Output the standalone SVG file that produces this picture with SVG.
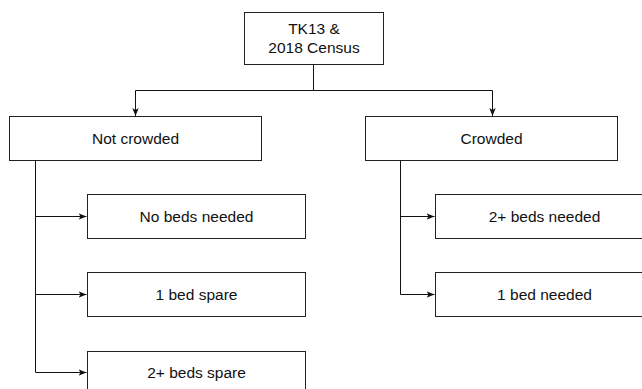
<svg xmlns="http://www.w3.org/2000/svg" width="642" height="389" viewBox="0 0 642 389">
  <style>
    .box { fill: #ffffff; stroke: #222222; stroke-width: 1; }
    .lbl { font-family: "Liberation Sans", Arial, sans-serif; font-size: 15.5px; fill: #111111; text-anchor: middle; }
    .edge { fill: none; stroke: #111111; stroke-width: 1; marker-end: url(#arrow); }
  </style>
  <defs>
    <marker id="arrow" viewBox="0 0 8 8" refX="8" refY="4" markerWidth="8" markerHeight="8" markerUnits="userSpaceOnUse" orient="auto">
      <path d="M0,0.8 L8,4 L0,7.2 L2,4 Z" fill="#111111"/>
    </marker>
  </defs>
  <rect width="642" height="389" fill="#ffffff"/>

  <g id="connectors">
    <path class="edge" d="M313.5,64 V90.5 H135.5 V116"/>
    <path class="edge" d="M313.5,64 V90.5 H492.5 V116"/>
    <path class="edge" d="M35.5,160 V216.5 H86.5"/>
    <path class="edge" d="M35.5,160 V294.5 H86.5"/>
    <path class="edge" d="M35.5,160 V372.5 H86.5"/>
    <path class="edge" d="M400.5,160 V216.5 H434.5"/>
    <path class="edge" d="M400.5,160 V294.5 H434.5"/>
  </g>

  <g id="root">
    <rect class="box" x="244.5" y="12.5" width="139" height="52"/>
    <text class="lbl" x="314" y="34">TK13 &amp;</text>
    <text class="lbl" x="314" y="53">2018 Census</text>
  </g>

  <g id="not-crowded">
    <rect class="box" x="9.5" y="116.5" width="252" height="44"/>
    <text class="lbl" x="135.5" y="144">Not crowded</text>
  </g>

  <g id="crowded">
    <rect class="box" x="365.5" y="116.5" width="252" height="44"/>
    <text class="lbl" x="491.5" y="144">Crowded</text>
  </g>

  <g id="no-beds-needed">
    <rect class="box" x="87.5" y="194.5" width="218" height="44"/>
    <text class="lbl" x="196.5" y="222">No beds needed</text>
  </g>

  <g id="one-bed-spare">
    <rect class="box" x="87.5" y="272.5" width="218" height="44"/>
    <text class="lbl" x="196.5" y="300">1 bed spare</text>
  </g>

  <g id="two-beds-spare">
    <rect class="box" x="87.5" y="351.5" width="218" height="44"/>
    <text class="lbl" x="196.5" y="378">2+ beds spare</text>
  </g>

  <g id="two-beds-needed">
    <rect class="box" x="435.5" y="194.5" width="218" height="44"/>
    <text class="lbl" x="544.5" y="222">2+ beds needed</text>
  </g>

  <g id="one-bed-needed">
    <rect class="box" x="435.5" y="272.5" width="218" height="44"/>
    <text class="lbl" x="544.5" y="300">1 bed needed</text>
  </g>
</svg>
